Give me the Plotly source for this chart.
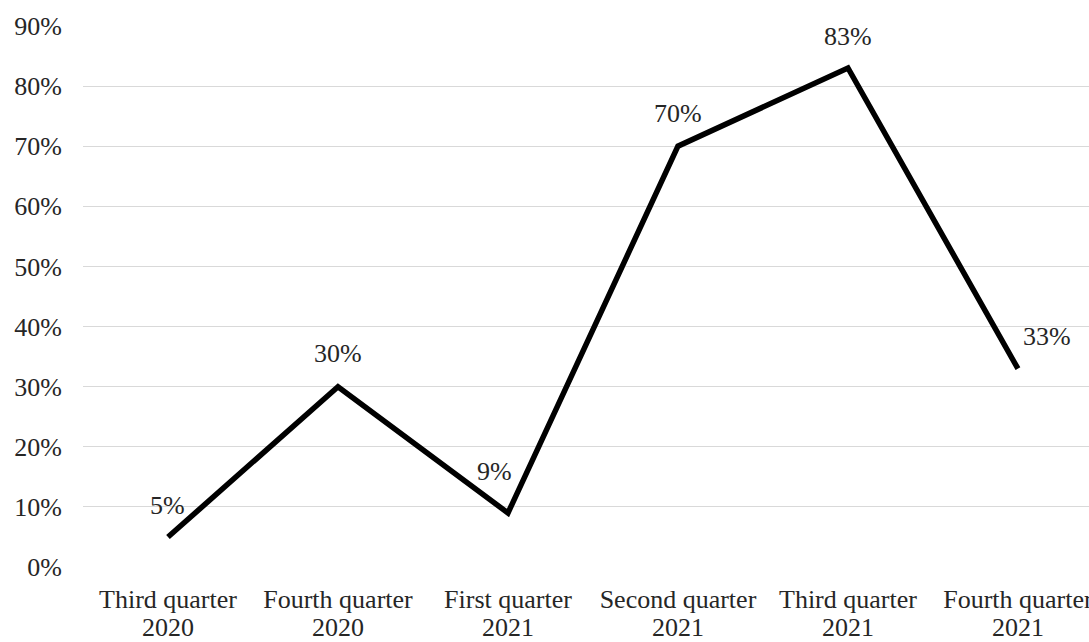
import plotly.graph_objects as go

quarters = ["Third quarter", "Fourth quarter", "First quarter", "Second quarter", "Third quarter", "Fourth quarter"]
years = ["2020", "2020", "2021", "2021", "2021", "2021"]
values = [0.05, 0.30, 0.09, 0.70, 0.83, 0.33]
y_ticks = [0, 0.1, 0.2, 0.3, 0.4, 0.5, 0.6, 0.7, 0.8, 0.9]
y_tick_labels = ["0%", "10%", "20%", "30%", "40%", "50%", "60%", "70%", "80%", "90%"]

x_idx = list(range(len(values)))
label_shifts = [(0, 32), (0, 33), (-13, 41), (0, 33), (0, 32), (29, 32)]

FONT = "Liberation Serif, Times New Roman, serif"
TXT = "#262626"
FS = 26

fig = go.Figure()
fig.add_trace(go.Scatter(
    x=x_idx, y=values, mode="lines",
    line=dict(color="black", width=5.5),
    hoverinfo="skip", showlegend=False,
))

annotations = []
for i, v in enumerate(values):
    dx, dy = label_shifts[i]
    annotations.append(dict(
        x=i, y=v, xref="x", yref="y", text=f"{round(v*100)}%",
        showarrow=False, xshift=dx, yshift=dy,
        font=dict(family=FONT, size=FS, color=TXT),
        xanchor="center", yanchor="middle",
    ))
for i, yr in enumerate(years):
    annotations.append(dict(
        x=i, y=0, xref="x", yref="y", text=yr,
        showarrow=False, yshift=-60,
        font=dict(family=FONT, size=FS, color=TXT),
        xanchor="center", yanchor="middle",
    ))

fig.update_layout(
    width=1089, height=642,
    margin=dict(l=83, r=0, t=25, b=74),
    paper_bgcolor="white", plot_bgcolor="white",
    font=dict(family=FONT, size=FS, color=TXT),
    annotations=annotations,
    xaxis=dict(
        tickmode="array", tickvals=x_idx, ticktext=quarters,
        range=[-0.5, 5.418], showgrid=False, zeroline=False,
        showline=False, ticks="", ticklabelstandoff=13,
        ticklabeloverflow="allow", automargin=False,
        tickfont=dict(family=FONT, size=FS, color=TXT),
    ),
    yaxis=dict(
        tickmode="array", tickvals=y_ticks, ticktext=y_tick_labels,
        range=[-0.0015, 0.9015], showgrid=True, gridcolor="#d9d9d9", gridwidth=1,
        zeroline=False, showline=False, ticks="", ticklabelstandoff=20,
        automargin=False,
        tickfont=dict(family=FONT, size=FS, color=TXT),
    ),
)

fig.write_html(
    "out.html",
    config={"displayModeBar": False},
    post_script="document.body.style.margin='0';document.body.style.overflow='hidden';",
)
